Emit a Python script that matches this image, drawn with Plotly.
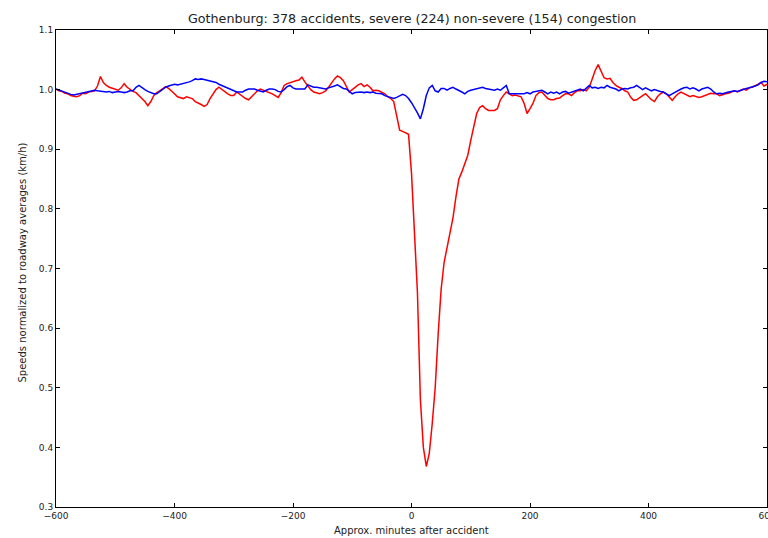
import plotly.graph_objects as go

minutes = list(range(-600, 605, 5))

severe = [
    # -600 .. -380
    1.001, 0.998, 0.997, 0.994, 0.993, 0.990, 0.989, 0.988, 0.990, 0.994,
    0.993, 0.996, 0.997, 0.998, 1.006, 1.022, 1.012, 1.007, 1.004, 1.002,
    1.000, 0.999, 1.003, 1.010, 1.004, 1.000, 0.997, 0.995, 0.990, 0.985,
    0.980, 0.973, 0.980, 0.990, 0.995, 0.998, 1.002, 1.005, 1.002, 0.998,
    0.993, 0.988, 0.986, 0.985, 0.988,
    # -375 .. -300
    0.986, 0.985, 0.980, 0.978, 0.975, 0.972, 0.975, 0.985, 0.993, 1.000,
    1.004, 1.000, 0.996, 0.993, 0.990, 0.990,
    # -295 .. -40
    0.996, 0.992, 0.988, 0.985, 0.983, 0.988, 0.993, 0.998, 1.001, 0.999,
    0.998, 0.996, 0.993, 0.990, 0.987, 0.995, 1.007, 1.010, 1.012, 1.013,
    1.015, 1.016, 1.021, 1.013, 1.007, 1.000, 0.996, 0.995, 0.993, 0.995,
    0.998, 1.004, 1.012, 1.018, 1.023, 1.020, 1.015, 1.005, 0.996, 1.000,
    1.004, 1.008, 1.010, 1.005, 1.008, 1.004, 0.998, 0.999, 0.998, 0.996,
    0.993, 0.988,
    # -35 .. 145
    0.985, 0.980, 0.955, 0.932, 0.930, 0.928, 0.925, 0.860, 0.760, 0.660,
    0.480, 0.400, 0.368, 0.390, 0.440, 0.500, 0.590, 0.665, 0.710, 0.735,
    0.760, 0.785, 0.820, 0.850, 0.862, 0.875, 0.890, 0.915, 0.940, 0.960,
    0.970, 0.973, 0.968, 0.965, 0.965, 0.965, 0.968,
    # 150 .. 525
    0.983, 0.990, 0.996, 0.993, 0.990, 0.991, 0.990, 0.988, 0.977, 0.960,
    0.968, 0.977, 0.990, 0.995, 0.996, 0.990, 0.985, 0.983, 0.983, 0.985,
    0.986, 0.990, 0.993, 0.993, 0.990, 0.995, 0.998, 0.998, 1.000, 0.998,
    1.004, 1.018, 1.032, 1.042, 1.032, 1.020, 1.018, 1.019, 1.012, 1.007,
    1.004, 1.002, 0.998, 0.996, 0.987, 0.982, 0.983, 0.987, 0.990, 0.993,
    0.988, 0.983, 0.980, 0.988, 0.993, 0.996, 0.993, 0.988, 0.982, 0.988,
    0.993, 0.996, 0.993, 0.990, 0.988, 0.990, 0.989, 0.987, 0.988, 0.990,
    0.993, 0.994, 0.993, 0.993, 0.990, 0.992,
    # 530 .. 600
    0.993, 0.994, 0.996, 0.998, 0.996, 0.998, 1.001, 0.999, 1.003, 1.004,
    1.006, 1.009, 1.012, 1.006, 1.009,
]

non_severe = [
    # -600 .. -380
    1.001, 0.999, 0.998, 0.996, 0.994, 0.992, 0.991, 0.992, 0.993, 0.995,
    0.996, 0.997, 0.998, 0.999, 0.998, 0.997, 0.997, 0.996, 0.997, 0.995,
    0.996, 0.997, 0.996, 0.995, 0.996, 0.998, 0.998, 1.004, 1.007, 1.003,
    1.000, 0.997, 0.995, 0.993, 0.993, 0.997, 1.000, 1.004, 1.006, 1.008,
    1.009, 1.008, 1.009, 1.010, 1.012,
    # -375 .. -300
    1.013, 1.015, 1.018, 1.017, 1.018, 1.017, 1.016, 1.015, 1.014, 1.012,
    1.009, 1.007, 1.005, 1.003, 1.001, 0.999,
    # -295 .. -40
    0.996, 0.996, 0.996, 0.999, 1.001, 1.001, 1.001, 0.999, 0.997, 0.996,
    0.999, 1.001, 1.001, 1.000, 0.997, 0.996, 1.000, 1.005, 1.007, 1.003,
    1.001, 1.001, 1.000, 1.001, 1.008, 1.006, 1.004, 1.004, 1.003, 1.002,
    1.001, 1.003, 1.004, 1.006, 1.008, 1.005, 1.002, 1.001, 0.997, 0.993,
    0.995, 0.996, 0.996, 0.995, 0.996, 0.995, 0.996, 0.994, 0.993, 0.993,
    0.990, 0.988,
    # -35 .. 145
    0.986, 0.985, 0.987, 0.990, 0.992, 0.990, 0.985, 0.978, 0.970, 0.961,
    0.951, 0.968, 0.990, 1.003, 1.007, 0.998, 0.996, 1.002, 1.002, 0.999,
    1.002, 1.004, 1.001, 0.999, 0.996, 0.993, 0.997, 0.999, 1.000, 1.001,
    1.002, 1.004, 1.002, 1.001, 1.000, 0.999, 1.001,
    # 150 .. 525
    0.999, 1.003, 1.007, 0.993, 0.993, 0.993, 0.993, 0.994, 0.993, 0.995,
    0.993, 0.996, 0.997, 0.998, 0.999, 0.996, 0.993, 0.996, 0.994, 0.996,
    0.993, 0.996, 0.997, 0.994, 0.996, 0.997, 0.999, 1.001, 0.998, 1.003,
    1.007, 1.003, 1.004, 1.002, 1.004, 1.003, 1.007, 1.004, 1.003, 1.001,
    0.998, 1.001, 1.002, 1.001, 1.003, 1.004, 1.007, 1.003, 1.000, 1.003,
    1.001, 0.998, 1.000, 0.998, 0.997, 0.996, 0.993, 0.990, 0.993, 0.996,
    0.998, 1.001, 1.003, 1.004, 1.001, 1.003, 1.001, 0.998, 1.001, 1.003,
    1.004, 1.001, 0.996, 0.993, 0.994, 0.993,
    # 530 .. 600
    0.995, 0.996, 0.997, 0.998, 0.997, 0.999, 1.000, 1.002, 1.003, 1.004,
    1.006, 1.008, 1.012, 1.014, 1.013,
]

x_ticks = [-600, -400, -200, 0, 200, 400, 600]
y_ticks = [0.3, 0.4, 0.5, 0.6, 0.7, 0.8, 0.9, 1.0, 1.1]

title_text = "Gothenburg: 378 accidents, severe (224) non-severe (154) congestion"
x_title = "Approx. minutes after accident"
y_title = "Speeds normalized to roadway averages (km/h)"

font_family = "DejaVu Sans, sans-serif"

fig = go.Figure()
fig.add_trace(go.Scatter(x=minutes, y=severe, mode="lines",
                         line=dict(color="#ff0000", width=1.5), name="severe"))
fig.add_trace(go.Scatter(x=minutes, y=non_severe, mode="lines",
                         line=dict(color="#0000ff", width=1.5), name="non-severe"))

axis_common = dict(showline=True, linecolor="black", linewidth=1, mirror="allticks",
                   ticks="inside", ticklen=4, tickcolor="black", showgrid=False,
                   zeroline=False, automargin=False,
                   tickfont=dict(family=font_family, size=9, color="#222"))

fig.update_layout(
    width=768, height=538,
    margin=dict(l=56, r=1, t=30, b=31),
    paper_bgcolor="white", plot_bgcolor="white",
    showlegend=False,
    font=dict(family=font_family, color="#222"),
    xaxis=dict(range=[-600, 600], tickvals=x_ticks, ticklabeloverflow="allow", **axis_common),
    yaxis=dict(range=[0.3, 1.1], tickvals=y_ticks, tickformat=".1f", **axis_common),
    annotations=[
        dict(text=title_text, xref="paper", yref="paper", x=0.5, y=1, yshift=12,
             showarrow=False, xanchor="center", yanchor="middle",
             font=dict(size=12.7, family=font_family, color="#222")),
        dict(text=x_title, xref="paper", yref="paper", x=0.5, y=0, yshift=-23,
             showarrow=False, xanchor="center", yanchor="middle",
             font=dict(size=10, family=font_family, color="#222")),
        dict(text=y_title, xref="paper", yref="paper", x=0, y=0.5, xshift=-34, yshift=6,
             showarrow=False, xanchor="center", yanchor="middle", textangle=-90,
             font=dict(size=10, family=font_family, color="#222")),
    ],
)

fig.write_html("out.html")
